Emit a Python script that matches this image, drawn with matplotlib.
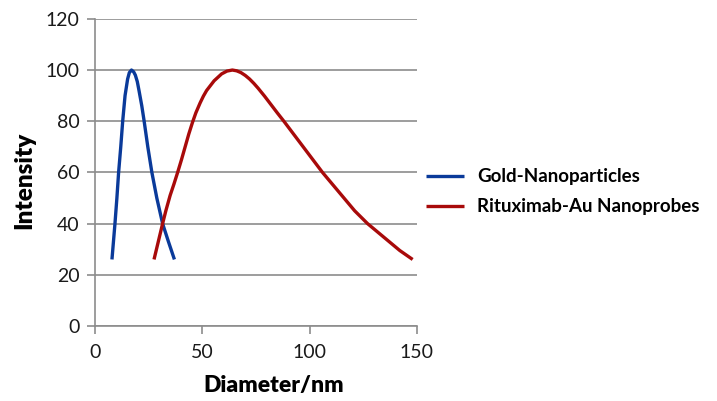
import matplotlib
matplotlib.use("Agg")
import matplotlib.pyplot as plt

# values
gold_x = [7.9, 8.6, 9.3, 10.2, 11.0, 12.0, 12.9, 14.0, 15.2, 16.0, 17.0, 18.0, 18.8, 19.7, 20.5, 21.8, 22.9, 24.6, 26.5, 28.8, 31.5, 34.2, 37.0]
gold_y = [26, 33, 40, 50, 60, 70, 80, 90, 96.5, 99, 100, 99.3, 98, 95.5, 92, 86, 80, 70, 60, 50, 40, 33, 26]

ritux_x = [27.5, 29.5, 31.5, 33.0, 35.0, 36.8, 38.5, 40.3, 42.0, 43.7, 45.4, 47.0, 49.0, 50.5, 52.0, 55.5, 59.0, 61.5,
           64.0, 66.0, 68.0, 70.0, 72.0, 74.0, 76.0, 79.0, 82.0, 85.0, 88.0, 92.5, 97.0, 101.5, 106.0, 111.0,
           116.0, 121.0, 127.0, 132.0, 137.0, 142.0, 148.0]
ritux_y = [26, 33, 40, 45, 51, 55.5, 60, 65, 70, 75, 79.5, 83.3, 87.2, 89.8, 92, 95.8, 98.5, 99.6,
           100, 99.7, 99, 97.9, 96.5, 94.8, 92.9, 89.8, 86.5, 83.2, 80, 75, 70, 65, 60, 55,
           50, 45, 40, 36.5, 33, 29.5, 26]

series_names = ["Gold-Nanoparticles", "Rituximab-Au Nanoprobes"]
x_ticks = [0, 50, 100, 150]
y_ticks = [0, 20, 40, 60, 80, 100, 120]

plt.rcParams['font.family'] = ['Lato', 'DejaVu Sans']

fig = plt.figure(figsize=(7.17, 4.01), dpi=100)
ax = fig.add_axes([0.1325, 0.187, 0.449, 0.766])

ax.plot(gold_x, gold_y, color="#0a3a9a", lw=2.4, label=series_names[0], solid_capstyle="butt")
ax.plot(ritux_x, ritux_y, color="#a80a0a", lw=2.4, label=series_names[1], solid_capstyle="butt")

ax.set_xlim(0, 150)
ax.set_ylim(0, 120)
ax.set_xticks(x_ticks)
ax.set_yticks(y_ticks)
ax.grid(axis="y", color="#8c8c8c", lw=1.2)
ax.set_axisbelow(True)
for s in ["top", "right"]:
    ax.spines[s].set_visible(False)
for s in ["left", "bottom"]:
    ax.spines[s].set_color("#8c8c8c")
    ax.spines[s].set_linewidth(1.2)
ax.tick_params(axis="both", direction="out", length=6, width=1.2, color="#8c8c8c",
               labelsize=14, labelcolor="#1a1a1a", pad=5)
ax.tick_params(axis="x", pad=7)

ax.set_xlabel("Diameter/nm", fontsize=16.5, fontweight="heavy")
ax.set_ylabel("Intensity", fontsize=17.5, fontweight="heavy")
ax.xaxis.set_label_coords(0.556, -0.16)
ax.yaxis.set_label_coords(-0.186, 0.4756)

fig.legend(loc="center left", bbox_to_anchor=(0.571, 0.522), frameon=False,
           prop={"size": 13.5, "weight": "bold"}, handlelength=2.0, handletextpad=0.7,
           labelspacing=0.7)

fig.savefig("out.png", dpi=100)
